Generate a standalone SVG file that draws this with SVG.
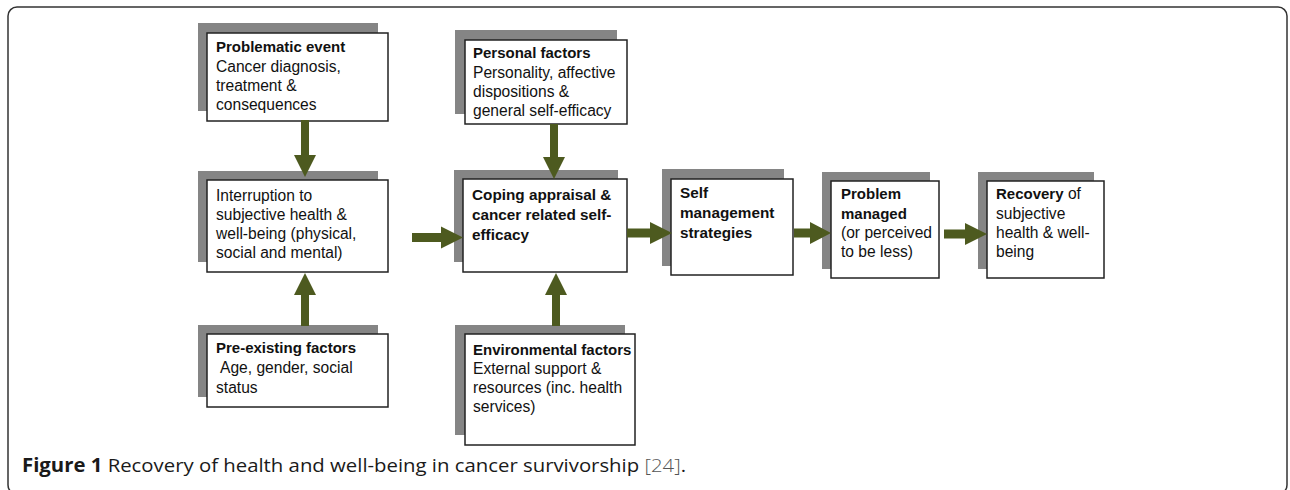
<svg xmlns="http://www.w3.org/2000/svg" width="1290" height="490" viewBox="0 0 1290 490">
<style>
.shadow{fill:#858585;}
.box{fill:#ffffff;stroke:#222222;stroke-width:1.5;}
.t{font-family:"Liberation Sans",Arial,sans-serif;font-size:15.6px;fill:#111111;}
.b{font-weight:bold;font-size:15px;}
.arr{fill:#4d5a1f;}
.cap{font-family:"Open Sans","Liberation Sans",sans-serif;font-size:19px;fill:#1a1a1a;}
</style>
<rect x="8" y="7" width="1279" height="487" rx="9" fill="#ffffff" stroke="#333333" stroke-width="1.5"/>

<g id="problematic-event">
<rect class="shadow" x="198" y="23" width="180" height="88"/>
<rect class="box" x="207" y="33" width="181" height="88"/>
<text class="t"><tspan class="b" x="216" y="52">Problematic event</tspan><tspan x="216" y="72">Cancer diagnosis,</tspan><tspan x="216" y="91">treatment &amp;</tspan><tspan x="216" y="110">consequences</tspan></text>
</g>

<g id="interruption">
<rect class="shadow" x="198" y="171" width="180" height="91"/>
<rect class="box" x="207" y="180" width="181" height="92"/>
<text class="t"><tspan x="216" y="201">Interruption to</tspan><tspan x="216" y="220">subjective health &amp;</tspan><tspan x="216" y="239">well-being (physical,</tspan><tspan x="216" y="258">social and mental)</tspan></text>
</g>

<g id="pre-existing">
<rect class="shadow" x="198" y="325" width="180" height="72"/>
<rect class="box" x="207" y="334" width="181" height="73"/>
<text class="t"><tspan class="b" x="216" y="353">Pre-existing factors</tspan><tspan x="220" y="373">Age, gender, social</tspan><tspan x="216" y="393">status</tspan></text>
</g>

<g id="personal-factors">
<rect class="shadow" x="455" y="30" width="162" height="84"/>
<rect class="box" x="465" y="40" width="162" height="84"/>
<text class="t"><tspan class="b" x="473" y="58">Personal factors</tspan><tspan x="473" y="78">Personality, affective</tspan><tspan x="473" y="97">dispositions &amp;</tspan><tspan x="473" y="116">general self-efficacy</tspan></text>
</g>

<g id="coping">
<rect class="shadow" x="454" y="170" width="164" height="92"/>
<rect class="box" x="463" y="179" width="164" height="93"/>
<text class="t b" style="font-size:15.3px"><tspan x="472" y="200">Coping appraisal &amp;</tspan><tspan x="472" y="220">cancer related self-</tspan><tspan x="472" y="240">efficacy</tspan></text>
</g>

<g id="environmental-factors">
<rect class="shadow" x="455" y="325" width="170" height="110"/>
<rect class="box" x="465" y="334" width="170" height="111"/>
<text class="t"><tspan class="b" x="473" y="355">Environmental factors</tspan><tspan x="473" y="374">External support &amp;</tspan><tspan x="473" y="393">resources (inc. health</tspan><tspan x="473" y="412">services)</tspan></text>
</g>

<g id="self-management">
<rect class="shadow" x="662" y="169" width="122" height="97"/>
<rect class="box" x="671" y="179" width="122" height="96"/>
<text class="t b" style="font-size:15.3px"><tspan x="680" y="198">Self</tspan><tspan x="680" y="218">management</tspan><tspan x="680" y="238">strategies</tspan></text>
</g>

<g id="problem-managed">
<rect class="shadow" x="822" y="172" width="108" height="97"/>
<rect class="box" x="831" y="181" width="108" height="97"/>
<text class="t"><tspan class="b" x="841" y="199">Problem</tspan><tspan class="b" x="841" y="219">managed</tspan><tspan x="841" y="238">(or perceived</tspan><tspan x="841" y="257">to be less)</tspan></text>
</g>

<g id="recovery">
<rect class="shadow" x="978" y="172" width="116" height="97"/>
<rect class="box" x="987" y="181" width="117" height="97"/>
<text class="t"><tspan x="996" y="199"><tspan class="b">Recovery</tspan>  of</tspan><tspan x="996" y="219">subjective</tspan><tspan x="996" y="238">health &amp; well-</tspan><tspan x="996" y="257">being</tspan></text>
</g>

<g id="connectors">
<polygon class="arr" points="301,120 309,120 309,155 316,155 305,177 294,155 301,155"/>
<polygon class="arr" points="301,326 309,326 309,295 316,295 305,273 294,295 301,295"/>
<polygon class="arr" points="412,233 441,233 441,226.5 463,237.5 441,248.5 441,242 412,242"/>
<polygon class="arr" points="550,124 558,124 558,157 565,157 554,179 543,157 550,157"/>
<polygon class="arr" points="552,326 560,326 560,295 567,295 556,273 545,295 552,295"/>
<polygon class="arr" points="627,228.5 650,228.5 650,222 672,233 650,244 650,237.5 627,237.5"/>
<polygon class="arr" points="794,228.5 810,228.5 810,222 831,233 810,244 810,237.5 794,237.5"/>
<polygon class="arr" points="944,229.5 965,229.5 965,223 987,234 965,245 965,238.5 944,238.5"/>
</g>

<text class="cap" x="22" y="472" textLength="664" lengthAdjust="spacingAndGlyphs"><tspan font-weight="bold">Figure 1</tspan> Recovery of health and well-being in cancer survivorship <tspan fill="#555555" font-weight="300">[24]</tspan>.</text>
</svg>
